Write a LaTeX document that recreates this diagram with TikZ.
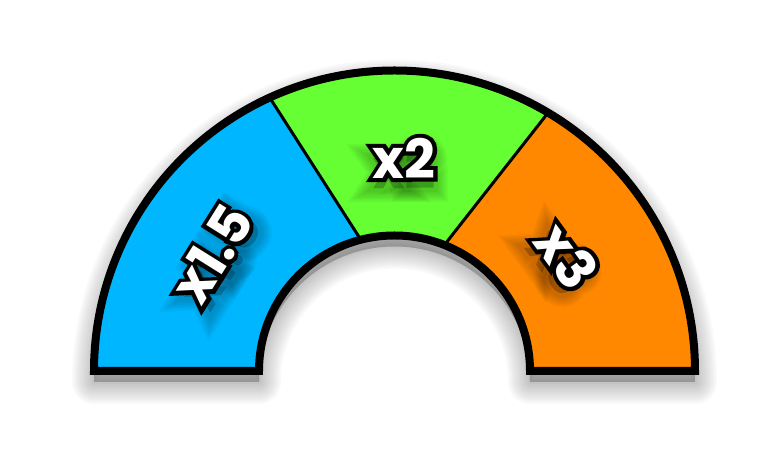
\documentclass[tikz,border=0pt]{standalone}
\usepackage{fontspec}
\usetikzlibrary{calc}
\newfontfamily\labW{Poppins Bold}
\newfontfamily\labK{Poppins Bold}[FakeBold=15]
\newfontfamily\labSa{Poppins Bold}[FakeBold=16]
\newfontfamily\labSb{Poppins Bold}[FakeBold=22]
\newfontfamily\labSc{Poppins Bold}[FakeBold=28]
\newfontfamily\labSd{Poppins Bold}[FakeBold=34]
\newfontfamily\labSe{Poppins Bold}[FakeBold=40]
\newfontfamily\labSf{Poppins Bold}[FakeBold=46]
\newfontfamily\labSg{Poppins Bold}[FakeBold=52]
\definecolor{cblue}{RGB}{0,183,255}
\definecolor{cgreen}{RGB}{102,255,51}
\definecolor{corange}{RGB}{255,136,0}
\newcommand\shadowlayer[5]{% name, font, pos, angle, text
  \node[lab, rotate=#4, text=black, opacity=0.032, font=#2\fontsize{54}{54}\selectfont] (#1) at ($(#3)+(#4-90:10)$) {#5};}
\newcommand\gaugelabel[4]{%
  \shadowlayer{#1sg}{\labSg}{#2}{#3}{#4}
  \shadowlayer{#1sf}{\labSf}{#2}{#3}{#4}
  \shadowlayer{#1se}{\labSe}{#2}{#3}{#4}
  \shadowlayer{#1sd}{\labSd}{#2}{#3}{#4}
  \shadowlayer{#1sc}{\labSc}{#2}{#3}{#4}
  \shadowlayer{#1sb}{\labSb}{#2}{#3}{#4}
  \shadowlayer{#1sa}{\labSa}{#2}{#3}{#4}
  \node[lab, rotate=#3, text=black, font=\labK\fontsize{54}{54}\selectfont] (#1k) at (#2) {#4};
  \node[lab, rotate=#3, text=white, font=\labW\fontsize{54}{54}\selectfont] (#1) at (#2) {#4};
}
\begin{document}
\begin{tikzpicture}[x=1pt,y=1pt,
  lab/.style={inner sep=0pt},
  annulus/.style={insert path={(94,89) arc[start angle=180,end angle=0,radius=300.5] -- (530,89) arc[start angle=0,end angle=180,radius=135.5] -- cycle}},
  divider/.style={line width=3pt, draw=black}]
\useasboundingbox (0,0) rectangle (780,460);
% shadow of the gauge
\foreach \w in {4,8,...,44} {
  \path[shift={(0,-11)}, fill=black, fill opacity=0.025, draw=black, draw opacity=0.025, line width=\w pt, line join=round, annulus];
}
\coordinate (P1o) at (271.7,359.3);
\coordinate (P1i) at (356.7,226.7);
\coordinate (P2o) at (545,343.3);
\coordinate (P2i) at (448.3,220);
\coordinate (X) at (intersection of P1o--P1i and P2o--P2i);
\begin{scope}
  \clip[annulus];
  \fill[cblue] (0,0) rectangle (780,460);
  \fill[corange] ($(P2o)!-3!(P2i)$) -- ($(P2o)!3!(P2i)$) -- (1200,-300) -- (1200,1000) -- cycle;
  \fill[cgreen] ($(P1o)!-2!(P1i)$) -- (X) -- ($(P2o)!-2!(P2i)$) -- cycle;
  \draw[divider] ($(P1o)!-0.5!(P1i)$) -- ($(P1o)!1.3!(P1i)$);
  \draw[divider] ($(P2o)!-0.5!(P2i)$) -- ($(P2o)!1.3!(P2i)$);
\end{scope}
\draw[line width=8pt, line join=miter, annulus];
\gaugelabel{lA}{212,206}{58}{x1.5}
\gaugelabel{lB}{404,302}{0}{x2}
\gaugelabel{lC}{567,204}{-54}{x3}
\end{tikzpicture}
\end{document}
